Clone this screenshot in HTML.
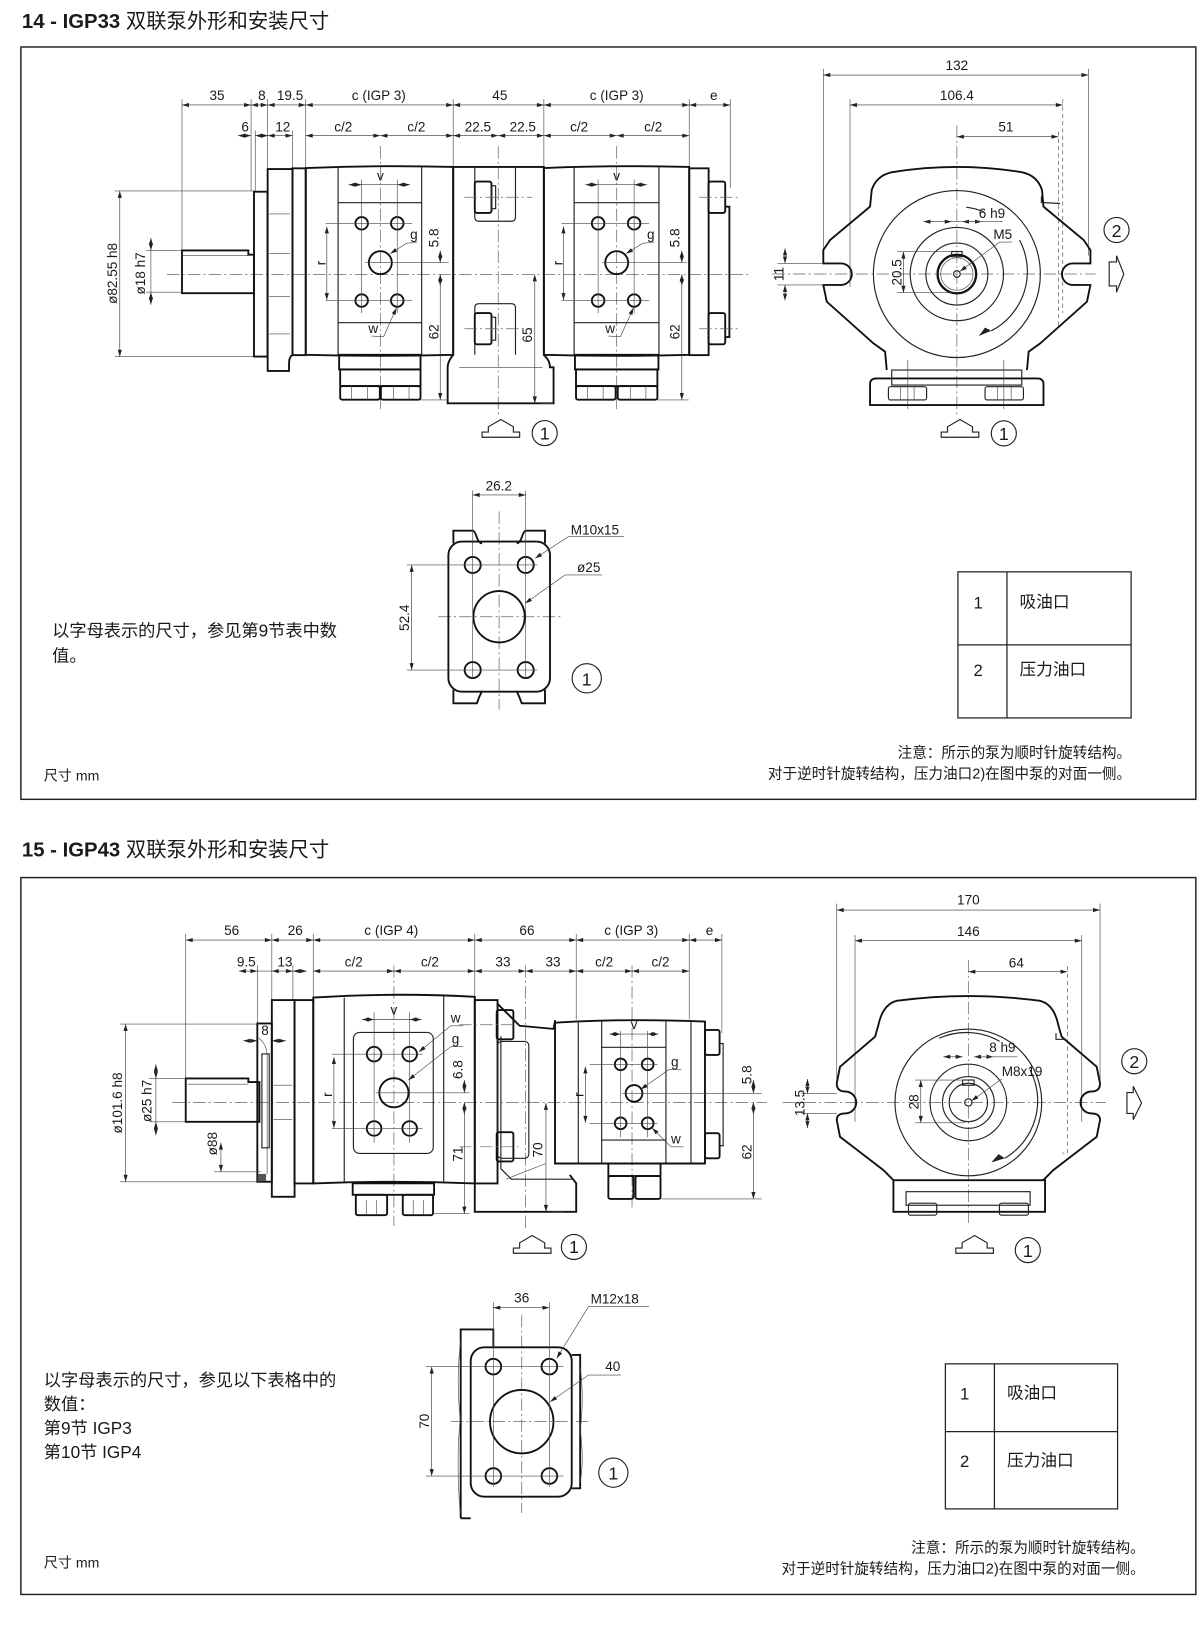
<!DOCTYPE html>
<html><head><meta charset="utf-8"><style>
html,body{margin:0;padding:0;background:#fff;}
svg{display:block;}
text{font-family:"Liberation Sans","Noto Sans CJK SC",sans-serif;fill:#1a1a1a;}
.d{font-size:13px;}
.o{fill:none;stroke:#111;stroke-width:1.8;}
.m{fill:none;stroke:#222;stroke-width:1.1;}
.t{fill:none;stroke:#444;stroke-width:0.6;}
.c{fill:none;stroke:#666;stroke-width:0.7;stroke-dasharray:12 3 2 3;}
.dm{fill:none;stroke:#333;stroke-width:0.6;marker-start:url(#a);marker-end:url(#a);}
.cn{font-size:16.5px;}
.tb{font-size:16px;}
</style></head><body>
<svg width="1200" height="1631" viewBox="0 0 1150 1563" xmlns="http://www.w3.org/2000/svg">
<defs>
<marker id="a" viewBox="0 0 10 6" refX="10" refY="3" markerWidth="8" markerHeight="4" orient="auto-start-reverse" markerUnits="userSpaceOnUse"><path d="M0,0 L10,3 L0,6 Z" fill="#222"/></marker>
</defs>
<rect x="0" y="0" width="1150" height="1563" fill="#fff"/>

<!-- ===== SECTION 14 ===== -->
<text x="21" y="27" font-size="19.5"><tspan font-weight="bold">14 - IGP33</tspan> 双联泵外形和安装尺寸</text>
<rect x="20" y="45" width="1126" height="721" fill="none" stroke="#222" stroke-width="1.4"/>

<!-- side view -->
<line class="c" x1="160" y1="262.9" x2="720" y2="262.9"/>
<line class="c" x1="364.5" y1="140" x2="364.5" y2="395"/>
<line class="c" x1="477.5" y1="140" x2="477.5" y2="400"/>
<line class="c" x1="591" y1="140" x2="591" y2="395"/>
<g class="t">
<line x1="174.4" y1="95" x2="174.4" y2="240"/><line x1="240.6" y1="95" x2="240.6" y2="183"/>
<line x1="244.6" y1="125" x2="244.6" y2="183"/><line x1="256.5" y1="95" x2="256.5" y2="162"/>
<line x1="280.3" y1="125" x2="280.3" y2="162"/><line x1="293" y1="95" x2="293" y2="160"/>
<line x1="434.3" y1="95" x2="434.3" y2="160"/><line x1="521.2" y1="95" x2="521.2" y2="160"/>
<line x1="660.5" y1="95" x2="660.5" y2="160"/><line x1="699.8" y1="95" x2="699.8" y2="180"/>
</g>
<line class="dm" x1="174.4" y1="100.6" x2="240.6" y2="100.6"/>
<line class="dm" x1="240.6" y1="100.6" x2="256.5" y2="100.6"/>
<line class="dm" x1="256.5" y1="100.6" x2="293" y2="100.6"/>
<line class="dm" x1="293" y1="100.6" x2="434.3" y2="100.6"/>
<line class="dm" x1="434.3" y1="100.6" x2="521.2" y2="100.6"/>
<line class="dm" x1="521.2" y1="100.6" x2="660.5" y2="100.6"/>
<line class="dm" x1="660.5" y1="100.6" x2="699.8" y2="100.6"/>
<text class="d" x="208" y="96" text-anchor="middle">35</text>
<text class="d" x="251" y="96" text-anchor="middle">8</text>
<text class="d" x="278" y="96" text-anchor="middle">19.5</text>
<text class="d" x="363" y="96" text-anchor="middle">c (IGP 3)</text>
<text class="d" x="479" y="96" text-anchor="middle">45</text>
<text class="d" x="591" y="96" text-anchor="middle">c (IGP 3)</text>
<text class="d" x="684" y="96" text-anchor="middle">e</text>
<line class="dm" x1="228" y1="130" x2="240.6" y2="130"/>
<line class="dm" x1="257" y1="130" x2="244.6" y2="130"/>
<line class="dm" x1="256.5" y1="130" x2="280.3" y2="130"/>
<line class="dm" x1="293" y1="130" x2="364.5" y2="130"/>
<line class="dm" x1="364.5" y1="130" x2="434.3" y2="130"/>
<line class="dm" x1="434.3" y1="130" x2="477.5" y2="130"/>
<line class="dm" x1="477.5" y1="130" x2="521.2" y2="130"/>
<line class="dm" x1="521.2" y1="130" x2="591" y2="130"/>
<line class="dm" x1="591" y1="130" x2="660.5" y2="130"/>
<text class="d" x="235" y="126" text-anchor="middle">6</text>
<text class="d" x="271" y="126" text-anchor="middle">12</text>
<text class="d" x="329" y="126" text-anchor="middle">c/2</text>
<text class="d" x="399" y="126" text-anchor="middle">c/2</text>
<text class="d" x="458" y="126" text-anchor="middle">22.5</text>
<text class="d" x="501" y="126" text-anchor="middle">22.5</text>
<text class="d" x="555" y="126" text-anchor="middle">c/2</text>
<text class="d" x="626" y="126" text-anchor="middle">c/2</text>

<path class="o" d="M174.4,240 H238 V244 H243.4 V281 H174.4 Z"/>
<line class="t" x1="175" y1="245" x2="238" y2="245"/>
<rect class="o" x="243.4" y="183.7" width="13" height="158"/>
<path class="o" d="M256.5,162 H280.3 V340 Q277,342 277,348 V355.5 H256.5 Z"/>
<g class="t"><line x1="258" y1="205" x2="278" y2="205"/><line x1="258" y1="243" x2="278" y2="243"/><line x1="258" y1="284" x2="278" y2="284"/><line x1="258" y1="320" x2="278" y2="320"/></g>
<rect class="o" x="280.3" y="161.3" width="12.7" height="179"/>
<path class="o" d="M293,161 Q364,158 434.3,160 V340 Q364,342 293,340 Z"/>
<line class="m" x1="324" y1="160" x2="324" y2="340"/><line class="m" x1="404.1" y1="160" x2="404.1" y2="340"/>
<line class="m" x1="324" y1="194.2" x2="404.1" y2="194.2"/><line class="m" x1="324" y1="309.2" x2="404.1" y2="309.2"/>
<rect class="o" x="325" y="340" width="78" height="14"/>
<rect class="o" x="326" y="354" width="77" height="16"/>
<rect class="o" x="326" y="370" width="38" height="13" rx="2"/><rect class="o" x="365" y="370" width="38" height="13" rx="2"/>
<g class="t"><line x1="337" y1="370" x2="337" y2="383"/><line x1="352" y1="370" x2="352" y2="383"/><line x1="377" y1="370" x2="377" y2="383"/><line x1="392" y1="370" x2="392" y2="383"/></g>
<path class="o" d="M434.3,160 H521.2 V340 C524,343 527,346 527,352 H530.5 V386.5 H429 V352 C429,347 432,343 434.3,340 Z"/>
<path class="m" d="M455,161 V208 Q455,212 459,212 H490 Q494,212 494,208 V161"/>
<path class="m" d="M455,340 V295 Q455,291 459,291 H490 Q494,291 494,295 V340"/>
<line class="t" x1="440" y1="352" x2="520" y2="352"/>
<rect class="o" x="455" y="174" width="16" height="30" rx="2"/><rect class="m" x="471" y="178" width="4" height="22"/>
<rect class="o" x="455" y="300" width="16" height="30" rx="2"/><rect class="m" x="471" y="304" width="4" height="22"/>
<line class="c" x1="445" y1="189" x2="510" y2="189"/><line class="c" x1="445" y1="315" x2="510" y2="315"/>
<path class="o" d="M521.2,161 Q590,158 660.5,160 V340 Q590,342 521.2,340 Z"/>
<line class="m" x1="550.2" y1="160" x2="550.2" y2="340"/><line class="m" x1="631.5" y1="160" x2="631.5" y2="340"/>
<line class="m" x1="550.2" y1="194.2" x2="631.5" y2="194.2"/><line class="m" x1="550.2" y1="309.2" x2="631.5" y2="309.2"/>
<rect class="o" x="551" y="340" width="80" height="14"/>
<rect class="o" x="552" y="354" width="78" height="16"/>
<rect class="o" x="552" y="370" width="38" height="13" rx="2"/><rect class="o" x="592" y="370" width="38" height="13" rx="2"/>
<g class="t"><line x1="563" y1="370" x2="563" y2="383"/><line x1="578" y1="370" x2="578" y2="383"/><line x1="604" y1="370" x2="604" y2="383"/><line x1="619" y1="370" x2="619" y2="383"/></g>
<rect class="o" x="660.5" y="161.3" width="18.6" height="179"/>
<rect class="o" x="679" y="174" width="16" height="30" rx="2"/><rect class="o" x="679" y="300" width="16" height="30" rx="2"/>
<path class="o" d="M695,198 H699 V323 H695"/>
<line class="c" x1="670" y1="189" x2="710" y2="189"/><line class="c" x1="670" y1="315" x2="710" y2="315"/>
<g class="o" stroke-width="1.5">
<circle cx="346.6" cy="214" r="6"/><circle cx="380.7" cy="214" r="6"/><circle cx="346.6" cy="288" r="6"/><circle cx="380.7" cy="288" r="6"/><circle cx="364.5" cy="251.7" r="11"/>
<circle cx="573.2" cy="214" r="6"/><circle cx="607.7" cy="214" r="6"/><circle cx="573.2" cy="288" r="6"/><circle cx="607.7" cy="288" r="6"/><circle cx="591" cy="251.7" r="11"/>
</g>
<g class="t">
<line x1="312" y1="214" x2="395" y2="214"/><line x1="312" y1="288" x2="395" y2="288"/><line x1="346.6" y1="172" x2="346.6" y2="300"/><line x1="380.7" y1="172" x2="380.7" y2="300"/><line x1="350" y1="251.7" x2="430" y2="251.7"/>
<line x1="538" y1="214" x2="622" y2="214"/><line x1="538" y1="288" x2="622" y2="288"/><line x1="573.2" y1="172" x2="573.2" y2="300"/><line x1="607.7" y1="172" x2="607.7" y2="300"/><line x1="577" y1="251.7" x2="658" y2="251.7"/>
<line x1="110" y1="183" x2="243" y2="183"/><line x1="110" y1="341.8" x2="243" y2="341.8"/>
<line x1="140" y1="240" x2="174" y2="240"/><line x1="140" y1="280" x2="174" y2="280"/>
<line x1="403" y1="383.3" x2="430" y2="383.3"/><line x1="530" y1="386.5" x2="518" y2="386.5"/><line x1="630" y1="383.3" x2="660" y2="383.3"/>
</g>
<line class="dm" x1="114.8" y1="183" x2="114.8" y2="341.8"/>
<text class="d" transform="translate(112,262) rotate(-90)" text-anchor="middle">ø82.55  h8</text>
<line class="dm" x1="144.6" y1="228" x2="144.6" y2="240"/><line class="dm" x1="144.6" y1="292" x2="144.6" y2="280"/>
<line class="t" x1="144.6" y1="240" x2="144.6" y2="280"/>
<text class="d" transform="translate(139,262) rotate(-90)" text-anchor="middle">ø18  h7</text>
<line class="dm" x1="313.2" y1="217" x2="313.2" y2="287.5"/>
<text class="d" transform="translate(312,252) rotate(-90)" text-anchor="middle">r</text>
<line class="dm" x1="540" y1="217" x2="540" y2="287.5"/>
<text class="d" transform="translate(539,252) rotate(-90)" text-anchor="middle">r</text>
<line class="dm" x1="334" y1="177" x2="346.6" y2="177"/><line class="dm" x1="393" y1="177" x2="380.7" y2="177"/><line class="t" x1="346.6" y1="177" x2="380.7" y2="177"/>
<text class="d" x="364.5" y="173" text-anchor="middle">v</text>
<line class="dm" x1="561" y1="177" x2="573.2" y2="177"/><line class="dm" x1="620" y1="177" x2="607.7" y2="177"/><line class="t" x1="573.2" y1="177" x2="607.7" y2="177"/>
<text class="d" x="591" y="173" text-anchor="middle">v</text>
<line class="dm" x1="421.9" y1="240" x2="421.9" y2="251.7"/><line class="dm" x1="421.9" y1="274" x2="421.9" y2="263"/>
<text class="d" transform="translate(420,228) rotate(-90)" text-anchor="middle">5.8</text>
<line class="dm" x1="421.9" y1="263" x2="421.9" y2="383.3"/>
<text class="d" transform="translate(420,318) rotate(-90)" text-anchor="middle">62</text>
<line class="dm" x1="512.5" y1="263" x2="512.5" y2="386.5"/>
<text class="d" transform="translate(510,321) rotate(-90)" text-anchor="middle">65</text>
<line class="dm" x1="653.4" y1="240" x2="653.4" y2="251.7"/><line class="dm" x1="653.4" y1="274" x2="653.4" y2="263"/>
<text class="d" transform="translate(651,228) rotate(-90)" text-anchor="middle">5.8</text>
<line class="dm" x1="653.4" y1="263" x2="653.4" y2="383.3"/>
<text class="d" transform="translate(651,318) rotate(-90)" text-anchor="middle">62</text>
<text class="d" x="393" y="229">g</text><path class="t" d="M400,232 L389.5,233.2 L374,243" marker-end="url(#a)"/>
<text class="d" x="620" y="229">g</text><path class="t" d="M627,232 L616,233.2 L600,243" marker-end="url(#a)"/>
<text class="d" x="353" y="319">w</text><path class="t" d="M356,322 L367.6,322.6 L380,295" marker-end="url(#a)"/>
<text class="d" x="580" y="319">w</text><path class="t" d="M583,322 L594.6,322.6 L607,295" marker-end="url(#a)"/>
<path class="m" d="M462,419 V414 H468 V409 L480,402 L492,409 V414 H498 V419 Z"/>
<circle class="m" cx="522" cy="415" r="12"/><text x="522" y="421" font-size="17" text-anchor="middle">1</text>

<!-- end view 14 -->
<line class="c" x1="740" y1="262.6" x2="1050" y2="262.6"/>
<line class="c" x1="917" y1="120" x2="917" y2="400"/>
<g class="t">
<line x1="789" y1="66" x2="789" y2="245"/><line x1="1043" y1="66" x2="1043" y2="245"/>
<line x1="814.6" y1="95" x2="814.6" y2="275"/>
</g>
<path class="t" stroke-dasharray="4 3" d="M1018.5,95 V300 M1014.3,126 V315"/>
<line class="dm" x1="789" y1="71.9" x2="1043" y2="71.9"/><text class="d" x="917" y="67" text-anchor="middle">132</text>
<line class="dm" x1="814.6" y1="100.6" x2="1018.5" y2="100.6"/><text class="d" x="917" y="96" text-anchor="middle">106.4</text>
<line class="dm" x1="917" y1="131" x2="1014.3" y2="131"/><text class="d" x="964" y="126" text-anchor="middle">51</text>
<path class="o" d="M849.8,354.6 L848.2,337 L837,329 L792.3,289.1 L789,273.1 L806,273 A10.2,10.2 0 0 0 806,252.4 L789,252.4 L789,239.6 L795.5,230 L833.8,198 L835.4,182.1 Q840,168 855,165 Q917,155 979,165 Q994,168 998.6,182.1 L1000,198 L1038.5,230 L1045,239.6 L1045,252.4 L1028,252.4 A10.2,10.2 0 0 0 1028,273 L1045,273.1 L1041.7,289.1 L997,329 L985.8,337 L984.2,354.6"/>
<path class="m" d="M998,188 L998,194 L1016,195"/>
<path class="o" d="M840,362.6 H994 Q1000,362.6 1000,368 V388.2 H833.8 V368 Q833.8,362.6 840,362.6 Z"/>
<rect class="m" x="854.6" y="354.6" width="124.6" height="14.4"/>
<rect class="m" x="851.4" y="370.6" width="36.6" height="12.7" rx="2"/><rect class="m" x="944" y="370.6" width="36.8" height="12.7" rx="2"/>
<g class="t"><line x1="863" y1="370.6" x2="863" y2="383.3"/><line x1="876" y1="370.6" x2="876" y2="383.3"/><line x1="956" y1="370.6" x2="956" y2="383.3"/><line x1="969" y1="370.6" x2="969" y2="383.3"/><line x1="870" y1="345" x2="870" y2="392"/><line x1="962" y1="345" x2="962" y2="392"/></g>
<g class="m">
<circle cx="917" cy="262.6" r="80"/><circle cx="917" cy="262.6" r="44.7"/><circle cx="917" cy="262.6" r="29.7"/>
</g>
<circle cx="917" cy="262.6" r="18.5" fill="none" stroke="#111" stroke-width="2.2"/>
<circle class="t" cx="917" cy="262.6" r="15.5"/>
<circle class="m" cx="917" cy="262.6" r="3.2"/>
<rect class="m" x="912" y="241" width="10" height="5"/>
<path class="m" d="M926,198.5 A64,64 0 0 1 943,203"/>
<path class="m" d="M977,230 A64,64 0 0 1 950,317"/>
<path d="M950,317 L938,322 L944,314 Z" fill="#222"/>
<line class="dm" x1="885" y1="212.4" x2="912" y2="212.4"/><line class="dm" x1="941" y1="212.4" x2="922" y2="212.4"/><line class="t" x1="912" y1="212.4" x2="961" y2="212.4"/>
<text class="d" x="938" y="209">6 h9</text>
<text class="d" x="952" y="229">M5</text><path class="t" d="M970,232 L958,232 L920,260" marker-end="url(#a)"/>
<line class="t" x1="860" y1="241.2" x2="912" y2="241.2"/><line class="t" x1="860" y1="280.5" x2="912" y2="280.5"/>
<line class="dm" x1="865.8" y1="241.2" x2="865.8" y2="280.5"/>
<text class="d" transform="translate(864,261) rotate(-90)" text-anchor="middle">20.5</text>
<line class="t" x1="745" y1="252.4" x2="789" y2="252.4"/><line class="t" x1="745" y1="273.1" x2="789" y2="273.1"/>
<line class="dm" x1="752.3" y1="238" x2="752.3" y2="252.4"/><line class="dm" x1="752.3" y1="288" x2="752.3" y2="273.1"/>
<text class="d" transform="translate(751,262.6) rotate(-90)" text-anchor="middle">11</text>
<circle class="m" cx="1070" cy="220.4" r="12"/><text x="1070" y="227" font-size="17" text-anchor="middle">2</text>
<path class="m" d="M1063,251 H1070 V245 L1077,262.6 L1070,280 V274 H1063 Z"/>
<path class="m" d="M902,419 V414 H908 V409 L920,402 L932,409 V414 H938 V419 Z"/>
<circle class="m" cx="962" cy="415.3" r="12"/><text x="962" y="421.5" font-size="17" text-anchor="middle">1</text>

<!-- flange 14 -->
<line class="c" x1="478.3" y1="490" x2="478.3" y2="680"/>
<line class="c" x1="420" y1="591" x2="540" y2="591"/>
<path class="o" d="M434.5,520.7 V508.5 H453 Q455,508.5 457,515 Q459,520.7 462,520.7 M495.2,520.7 Q498,520.7 500,515 Q502,508.5 504,508.5 H522.3 V520.7"/>
<path class="o" d="M434.5,661 V674 H457 Q459,668 462,662 M495,662 Q498,668 500,674 H522.3 V661"/>
<rect class="o" x="429.7" y="519" width="97.4" height="143.8" rx="13"/>
<g class="o" stroke-width="1.5"><circle cx="453" cy="541.4" r="7.7"/><circle cx="503.8" cy="541.4" r="7.7"/><circle cx="453" cy="642.1" r="7.7"/><circle cx="503.8" cy="642.1" r="7.7"/><circle cx="478.3" cy="591" r="24.6"/></g>
<g class="t"><line x1="453" y1="470" x2="453" y2="650"/><line x1="503.8" y1="470" x2="503.8" y2="650"/><line x1="390" y1="541.4" x2="515" y2="541.4"/><line x1="390" y1="642.1" x2="515" y2="642.1"/></g>
<line class="dm" x1="453" y1="474.3" x2="503.8" y2="474.3"/><text class="d" x="478" y="470" text-anchor="middle">26.2</text>
<line class="dm" x1="394.5" y1="541.4" x2="394.5" y2="642.1"/><text class="d" transform="translate(392,592) rotate(-90)" text-anchor="middle">52.4</text>
<text class="d" x="547" y="512">M10x15</text><path class="t" d="M598,514.3 L544.7,514.3 L512.8,535" marker-end="url(#a)"/>
<text class="d" x="553" y="548">ø25</text><path class="t" d="M577,551 L541.5,551 L503.2,578.2" marker-end="url(#a)"/>
<circle class="m" cx="562.3" cy="650" r="14"/><text x="562.3" y="657" font-size="17" text-anchor="middle">1</text>

<text class="cn" x="50" y="610">以字母表示的尺寸，参见第9节表中数</text>
<text class="cn" x="50" y="634">值。</text>
<rect x="918" y="548" width="166" height="140" fill="none" stroke="#222" stroke-width="1.2"/>
<line x1="965" y1="548" x2="965" y2="688" stroke="#222" stroke-width="1.2"/>
<line x1="918" y1="618" x2="1084" y2="618" stroke="#222" stroke-width="1.2"/>
<text class="tb" x="933" y="583">1</text><text class="tb" x="977" y="582">吸油口</text>
<text class="tb" x="933" y="648">2</text><text class="tb" x="977" y="647">压力油口</text>
<text x="1084" y="726" font-size="14" text-anchor="end">注意：所示的泵为顺时针旋转结构。</text>
<text x="1084" y="746" font-size="14" text-anchor="end">对于逆时针旋转结构，压力油口2)在图中泵的对面一侧。</text>
<text x="42" y="748" font-size="13.5">尺寸  mm</text>

<!-- ===== SECTION 15 ===== -->
<text x="21" y="821" font-size="19.5"><tspan font-weight="bold">15 - IGP43</tspan> 双联泵外形和安装尺寸</text>
<rect x="20" y="841" width="1126" height="687" fill="none" stroke="#222" stroke-width="1.4"/>

<line class="c" x1="165" y1="1056.5" x2="735" y2="1056.5"/>
<line class="c" x1="377.5" y1="925" x2="377.5" y2="1175"/>
<line class="c" x1="503.7" y1="925" x2="503.7" y2="1180"/>
<line class="c" x1="605.7" y1="925" x2="605.7" y2="1160"/>
<g class="t">
<line x1="178" y1="895" x2="178" y2="1033"/><line x1="260.5" y1="895" x2="260.5" y2="958"/>
<line x1="246.6" y1="925" x2="246.6" y2="980"/><line x1="280.7" y1="925" x2="280.7" y2="958"/>
<line x1="300.2" y1="895" x2="300.2" y2="958"/><line x1="455" y1="895" x2="455" y2="958"/>
<line x1="552.2" y1="895" x2="552.2" y2="977"/><line x1="660.5" y1="895" x2="660.5" y2="977"/>
<line x1="691.8" y1="895" x2="691.8" y2="990"/>
</g>
<line class="dm" x1="178" y1="900.9" x2="260.5" y2="900.9"/>
<line class="dm" x1="260.5" y1="900.9" x2="300.2" y2="900.9"/>
<line class="dm" x1="300.2" y1="900.9" x2="455" y2="900.9"/>
<line class="dm" x1="455" y1="900.9" x2="552.2" y2="900.9"/>
<line class="dm" x1="552.2" y1="900.9" x2="660.5" y2="900.9"/>
<line class="dm" x1="660.5" y1="900.9" x2="691.8" y2="900.9"/>
<text class="d" x="222" y="896" text-anchor="middle">56</text>
<text class="d" x="283" y="896" text-anchor="middle">26</text>
<text class="d" x="375" y="896" text-anchor="middle">c (IGP 4)</text>
<text class="d" x="505" y="896" text-anchor="middle">66</text>
<text class="d" x="605" y="896" text-anchor="middle">c (IGP 3)</text>
<text class="d" x="680" y="896" text-anchor="middle">e</text>
<line class="dm" x1="229" y1="930.6" x2="246.6" y2="930.6"/><line class="t" x1="246.6" y1="930.6" x2="260.5" y2="930.6"/>
<line class="dm" x1="260.5" y1="930.6" x2="280.7" y2="930.6"/><line class="dm" x1="294" y1="930.6" x2="280.7" y2="930.6"/>
<line class="dm" x1="300.2" y1="930.6" x2="377.5" y2="930.6"/>
<line class="dm" x1="377.5" y1="930.6" x2="455" y2="930.6"/>
<line class="dm" x1="455" y1="930.6" x2="503.7" y2="930.6"/>
<line class="dm" x1="503.7" y1="930.6" x2="552.2" y2="930.6"/>
<line class="dm" x1="552.2" y1="930.6" x2="605.7" y2="930.6"/>
<line class="dm" x1="605.7" y1="930.6" x2="660.5" y2="930.6"/>
<text class="d" x="236" y="926" text-anchor="middle">9.5</text>
<text class="d" x="273" y="926" text-anchor="middle">13</text>
<text class="d" x="339" y="926" text-anchor="middle">c/2</text>
<text class="d" x="412" y="926" text-anchor="middle">c/2</text>
<text class="d" x="482" y="926" text-anchor="middle">33</text>
<text class="d" x="530" y="926" text-anchor="middle">33</text>
<text class="d" x="579" y="926" text-anchor="middle">c/2</text>
<text class="d" x="633" y="926" text-anchor="middle">c/2</text>

<path class="o" d="M178,1033.5 H238 V1037 H248.6 V1075 H178 Z"/>
<line class="t" x1="180" y1="1039" x2="238" y2="1039"/>
<rect class="o" x="246.6" y="980.8" width="13.9" height="151.7"/>
<path class="t" d="M248,995 Q255,1000 256,1010 V1110 L256,1125"/>
<rect x="247" y="1125" width="8" height="7" fill="#555"/>
<path class="m" d="M251,1010 H258 V1100 H251 Z"/>
<rect class="o" x="260.5" y="958.4" width="21.8" height="188.5"/>
<line class="t" x1="262" y1="1040" x2="280" y2="1040"/><line class="t" x1="262" y1="1073" x2="280" y2="1073"/>
<rect class="o" x="282.3" y="958.4" width="17.9" height="175.7"/>
<path class="o" d="M300.2,956 Q377,951 455,955.2 V1134.1 Q377,1131 300.2,1134.1 Z"/>
<line class="m" x1="329.9" y1="956" x2="329.9" y2="1134"/><line class="m" x1="425.2" y1="955" x2="425.2" y2="1134"/>
<rect class="m" x="338.7" y="989.4" width="76.5" height="116" rx="6"/>
<rect class="o" x="455" y="958.4" width="21.8" height="175.7"/>
<rect class="o" x="338" y="1134" width="78" height="11"/>
<rect class="o" x="341" y="1145" width="30" height="19.5" rx="2"/><rect class="o" x="386" y="1145" width="29" height="19.5" rx="2"/>
<g class="t"><line x1="351" y1="1150" x2="351" y2="1164"/><line x1="361" y1="1150" x2="361" y2="1164"/><line x1="396" y1="1150" x2="396" y2="1164"/><line x1="406" y1="1150" x2="406" y2="1164"/></g>
<path class="o" d="M476.8,962 L498,983 L530.5,986 L532,977.6"/>
<path class="m" d="M480,993 V1120 L490,1130 H548"/>
<rect class="m" x="476.8" y="998" width="30" height="112" rx="4"/>
<path class="o" d="M455,1134 V1161.3 H552.2 V1134 L546,1126"/>
<rect class="o" x="476" y="968" width="16" height="28" rx="2"/><rect class="o" x="476" y="1085" width="16" height="28" rx="2"/>
<line class="c" x1="440" y1="982" x2="500" y2="982"/><line class="c" x1="440" y1="1099" x2="500" y2="1099"/>
<path class="o" d="M531.9,980 Q600,976 675.6,979 V1115 H531.9 Z"/>
<line class="m" x1="554.2" y1="980" x2="554.2" y2="1115"/><line class="m" x1="576.6" y1="979" x2="576.6" y2="1115"/><line class="m" x1="638.2" y1="979" x2="638.2" y2="1115"/><line class="m" x1="662.2" y1="979" x2="662.2" y2="1115"/>
<line class="m" x1="576.6" y1="1003.7" x2="638.2" y2="1003.7"/><line class="m" x1="576.6" y1="1092.5" x2="638.2" y2="1092.5"/>
<rect class="o" x="583" y="1115" width="50" height="12"/>
<rect class="o" x="583" y="1127" width="24" height="22" rx="2"/><rect class="o" x="609" y="1127" width="24" height="22" rx="2"/>
<rect class="o" x="675.6" y="987" width="14" height="24" rx="2"/><rect class="o" x="675.6" y="1086" width="14" height="24" rx="2"/>
<path class="m" d="M689.6,1000 H693 V1098 H689.6"/>
<g class="o" stroke-width="1.5">
<circle cx="358.5" cy="1010.2" r="7"/><circle cx="392.6" cy="1010.2" r="7"/><circle cx="358.5" cy="1081.4" r="7"/><circle cx="392.6" cy="1081.4" r="7"/><circle cx="377.5" cy="1047.2" r="14"/>
<circle cx="594.8" cy="1020" r="5.6"/><circle cx="620.7" cy="1020" r="5.6"/><circle cx="594.8" cy="1076.5" r="5.6"/><circle cx="620.7" cy="1076.5" r="5.6"/><circle cx="607.6" cy="1047.8" r="8"/>
</g>
<g class="t">
<line x1="318" y1="1010.2" x2="405" y2="1010.2"/><line x1="318" y1="1081.4" x2="405" y2="1081.4"/><line x1="358.5" y1="970" x2="358.5" y2="1095"/><line x1="392.6" y1="970" x2="392.6" y2="1095"/><line x1="360" y1="1047.2" x2="450" y2="1047.2"/>
<line x1="565" y1="1020" x2="630" y2="1020"/><line x1="565" y1="1076.5" x2="630" y2="1076.5"/><line x1="594.8" y1="988" x2="594.8" y2="1090"/><line x1="620.7" y1="988" x2="620.7" y2="1090"/><line x1="596" y1="1047.8" x2="730" y2="1047.8"/>
<line x1="115" y1="981.4" x2="246" y2="981.4"/><line x1="115" y1="1132.5" x2="246" y2="1132.5"/>
<line x1="143" y1="1033.5" x2="178" y2="1033.5"/><line x1="143" y1="1075" x2="178" y2="1075"/>
<line x1="205" y1="1123" x2="250" y2="1123"/>
<line x1="415" y1="1163" x2="450" y2="1163"/><line x1="540" y1="1161.3" x2="530" y2="1161.3"/><line x1="633" y1="1149" x2="730" y2="1149"/>
</g>
<line class="dm" x1="120.4" y1="981.4" x2="120.4" y2="1132.5"/>
<text class="d" transform="translate(117,1057) rotate(-90)" text-anchor="middle">ø101.6  h8</text>
<line class="dm" x1="149.4" y1="1020" x2="149.4" y2="1033.5"/><line class="dm" x1="149.4" y1="1088" x2="149.4" y2="1075"/>
<line class="t" x1="149.4" y1="1033.5" x2="149.4" y2="1075"/>
<text class="d" transform="translate(145,1055) rotate(-90)" text-anchor="middle">ø25  h7</text>
<line class="dm" x1="211.7" y1="1095" x2="211.7" y2="1123"/>
<text class="d" transform="translate(208,1096) rotate(-90)" text-anchor="middle">ø88</text>
<line class="dm" x1="233" y1="997.4" x2="246.6" y2="997.4"/><line class="dm" x1="274" y1="997.4" x2="260.5" y2="997.4"/>
<text class="d" x="254" y="992" text-anchor="middle">8</text>
<line class="dm" x1="320" y1="1013" x2="320" y2="1081"/>
<text class="d" transform="translate(318,1049) rotate(-90)" text-anchor="middle">r</text>
<line class="dm" x1="561" y1="1022" x2="561" y2="1076"/>
<text class="d" transform="translate(559,1049) rotate(-90)" text-anchor="middle">r</text>
<line class="dm" x1="347" y1="977" x2="358.5" y2="977"/><line class="dm" x1="404" y1="977" x2="392.6" y2="977"/><line class="t" x1="358.5" y1="977" x2="392.6" y2="977"/>
<text class="d" x="377.5" y="972" text-anchor="middle">v</text>
<line class="dm" x1="584" y1="991" x2="594.8" y2="991"/><line class="dm" x1="631" y1="991" x2="620.7" y2="991"/><line class="t" x1="594.8" y1="991" x2="620.7" y2="991"/>
<text class="d" x="607.6" y="986" text-anchor="middle">v</text>
<line class="dm" x1="445" y1="1035" x2="445" y2="1047.2"/><line class="dm" x1="445" y1="1068" x2="445" y2="1056.5"/>
<text class="d" transform="translate(443,1025) rotate(-90)" text-anchor="middle">6.8</text>
<line class="dm" x1="445" y1="1056.5" x2="445" y2="1163"/>
<text class="d" transform="translate(443,1106) rotate(-90)" text-anchor="middle">71</text>
<line class="dm" x1="523.2" y1="1057" x2="523.2" y2="1161.3"/>
<text class="d" transform="translate(520,1102) rotate(-90)" text-anchor="middle">70</text>
<line class="t" x1="485" y1="1130" x2="523" y2="1115"/>
<line class="dm" x1="722" y1="1035" x2="722" y2="1047.8"/><line class="dm" x1="722" y1="1068" x2="722" y2="1056.5"/>
<text class="d" transform="translate(720,1030) rotate(-90)" text-anchor="middle">5.8</text>
<line class="dm" x1="722" y1="1056.5" x2="722" y2="1149"/>
<text class="d" transform="translate(720,1104) rotate(-90)" text-anchor="middle">62</text>
<text class="d" x="432" y="980">w</text><path class="t" d="M444,983 L432,983 L401.4,1008" marker-end="url(#a)"/>
<text class="d" x="433" y="1000">g</text><path class="t" d="M444,1003 L432,1003 L391.4,1035" marker-end="url(#a)"/>
<text class="d" x="643" y="1022">g</text><path class="t" d="M653,1025 L641,1025 L614,1044" marker-end="url(#a)"/>
<text class="d" x="643" y="1096">w</text><path class="t" d="M655,1099 L643,1099 L625,1081" marker-end="url(#a)"/>
<path class="m" d="M492,1201 V1196 H498 V1191 L510,1184 L522,1191 V1196 H528 V1201 Z"/>
<circle class="m" cx="550" cy="1195" r="12"/><text x="550" y="1201" font-size="17" text-anchor="middle">1</text>

<!-- end view 15 -->
<line class="c" x1="750" y1="1056.5" x2="1060" y2="1056.5"/>
<line class="c" x1="928" y1="920" x2="928" y2="1175"/>
<g class="t"><line x1="801.9" y1="866" x2="801.9" y2="1040"/><line x1="1054.2" y1="866" x2="1054.2" y2="1040"/><line x1="819.4" y1="896" x2="819.4" y2="1075"/><line x1="1036.7" y1="896" x2="1036.7" y2="1075"/></g>
<path class="t" stroke-dasharray="4 3" d="M1023,926 V1105 H1018"/>
<line class="dm" x1="801.9" y1="872.1" x2="1054.2" y2="872.1"/><text class="d" x="928" y="867" text-anchor="middle">170</text>
<line class="dm" x1="819.4" y1="901.5" x2="1036.7" y2="901.5"/><text class="d" x="928" y="897" text-anchor="middle">146</text>
<line class="dm" x1="928" y1="931.2" x2="1023" y2="931.2"/><text class="d" x="974" y="927" text-anchor="middle">64</text>
<path class="o" d="M856.2,1131 L846.6,1121.3 L805,1089.4 L801.9,1073.4 Q801.9,1067 810,1067 A10.5,10.5 0 0 0 810,1046 Q801.9,1046 801.9,1038.2 L805,1022.3 L838.6,993.5 L841.8,982.3 Q846,962 860,959 Q928,950 996,959 Q1010,962 1014.2,982.3 L1017.4,993.5 L1051,1022.3 L1054.2,1038.2 Q1054.2,1046 1046,1046 A10.5,10.5 0 0 0 1046,1067 Q1054.2,1067 1054.2,1073.4 L1051,1089.4 L1009.4,1121.3 L999.8,1131"/>
<path class="m" d="M1012,990 V996 H1022"/>
<rect class="o" x="856.2" y="1131" width="145.3" height="30.3"/>
<rect class="m" x="868.3" y="1142" width="118.9" height="13"/>
<rect class="m" x="870.6" y="1153" width="27.1" height="11.5" rx="2"/><rect class="m" x="957.8" y="1153" width="27.8" height="11.5" rx="2"/>
<g class="m"><circle cx="928" cy="1056.5" r="70.3"/><circle cx="928" cy="1056.5" r="36.7"/><circle cx="928" cy="1056.5" r="24.8"/><circle cx="928" cy="1056.5" r="18.4"/><circle cx="928" cy="1056.5" r="3.5"/></g>
<rect class="m" x="922.5" y="1035" width="11" height="5"/>
<path class="m" d="M900,995 A64,64 0 0 1 958,998"/>
<path class="m" d="M987,1025 A64,64 0 0 1 963,1110"/>
<path d="M963,1110 L950,1114 L957,1106 Z" fill="#222"/>
<line class="dm" x1="904" y1="1012.7" x2="922.5" y2="1012.7"/><line class="dm" x1="952" y1="1012.7" x2="933.5" y2="1012.7"/><line class="t" x1="933.5" y1="1012.7" x2="975" y2="1012.7"/>
<text class="d" x="948" y="1008">8  h9</text>
<text class="d" x="960" y="1031">M8x19</text><path class="t" d="M960,1034 L931,1055" marker-end="url(#a)"/>
<line class="t" x1="877" y1="1035" x2="925" y2="1035"/><line class="t" x1="877" y1="1076" x2="925" y2="1076"/>
<line class="dm" x1="882.4" y1="1035" x2="882.4" y2="1076"/>
<text class="d" transform="translate(880,1056) rotate(-90)" text-anchor="middle">28</text>
<line class="t" x1="768" y1="1048" x2="802" y2="1048"/><line class="t" x1="768" y1="1067" x2="802" y2="1067"/>
<line class="dm" x1="773.8" y1="1034" x2="773.8" y2="1048"/><line class="dm" x1="773.8" y1="1081" x2="773.8" y2="1067"/>
<text class="d" transform="translate(771,1057) rotate(-90)" text-anchor="middle">13.5</text>
<circle class="m" cx="1087" cy="1017" r="12"/><text x="1087" y="1023.5" font-size="17" text-anchor="middle">2</text>
<path class="m" d="M1080,1047 H1086 V1041 L1094,1057 L1086,1073 V1067 H1080 Z"/>
<path class="m" d="M916,1201 V1196 H922 V1191 L934,1184 L946,1191 V1196 H952 V1201 Z"/>
<circle class="m" cx="985" cy="1198" r="12"/><text x="985" y="1204.5" font-size="17" text-anchor="middle">1</text>

<!-- flange 15 -->
<line class="c" x1="500" y1="1260" x2="500" y2="1450"/>
<line class="c" x1="432" y1="1362.4" x2="565" y2="1362.4"/>
<path class="o" d="M441.5,1455 V1274 H472.8 V1291"/>
<path class="t" d="M441.5,1285 Q437,1320 441,1360 Q437,1400 441,1450"/>
<path class="o" d="M547.9,1298.5 H556 V1426.3 H547.9"/>
<path class="t" d="M556,1310 Q560,1340 556,1370 Q560,1400 556,1420"/>
<path class="o" d="M441.5,1455 H451.1"/>
<rect class="o" x="451.1" y="1291.2" width="96.8" height="143.1" rx="13"/>
<g class="o" stroke-width="1.5"><circle cx="472.8" cy="1309.7" r="7.5"/><circle cx="526.5" cy="1309.7" r="7.5"/><circle cx="472.8" cy="1414.5" r="7.5"/><circle cx="526.5" cy="1414.5" r="7.5"/><circle cx="500" cy="1362.4" r="30.4"/></g>
<g class="t"><line x1="472.8" y1="1248" x2="472.8" y2="1425"/><line x1="526.5" y1="1248" x2="526.5" y2="1425"/><line x1="408" y1="1309.7" x2="540" y2="1309.7"/><line x1="408" y1="1414.5" x2="540" y2="1414.5"/></g>
<line class="dm" x1="472.8" y1="1253.2" x2="526.5" y2="1253.2"/><text class="d" x="500" y="1248" text-anchor="middle">36</text>
<line class="dm" x1="413.7" y1="1309.7" x2="413.7" y2="1414.5"/><text class="d" transform="translate(411,1362) rotate(-90)" text-anchor="middle">70</text>
<text class="d" x="566" y="1249">M12x18</text><path class="t" d="M622,1252.2 L564,1252.2 L533.5,1301.7" marker-end="url(#a)"/>
<text class="d" x="580" y="1314">40</text><path class="t" d="M595,1317.7 L564,1317.7 L527.2,1343.3" marker-end="url(#a)"/>
<circle class="m" cx="587.8" cy="1411.3" r="14"/><text x="587.8" y="1418" font-size="17" text-anchor="middle">1</text>

<text class="cn" x="42" y="1328">以字母表示的尺寸，参见以下表格中的</text>
<text class="cn" x="42" y="1351">数值：</text>
<text class="cn" x="42" y="1374">第9节 IGP3</text>
<text class="cn" x="42" y="1397">第10节 IGP4</text>
<rect x="906" y="1307" width="165" height="139" fill="none" stroke="#222" stroke-width="1.2"/>
<line x1="953" y1="1307" x2="953" y2="1446" stroke="#222" stroke-width="1.2"/>
<line x1="906" y1="1372" x2="1071" y2="1372" stroke="#222" stroke-width="1.2"/>
<text class="tb" x="920" y="1341">1</text><text class="tb" x="965" y="1340">吸油口</text>
<text class="tb" x="920" y="1406">2</text><text class="tb" x="965" y="1405">压力油口</text>
<text x="1097" y="1488" font-size="14" text-anchor="end">注意：所示的泵为顺时针旋转结构。</text>
<text x="1097" y="1508" font-size="14" text-anchor="end">对于逆时针旋转结构，压力油口2)在图中泵的对面一侧。</text>
<text x="42" y="1502" font-size="13.5">尺寸  mm</text>
</svg>
</body></html>
